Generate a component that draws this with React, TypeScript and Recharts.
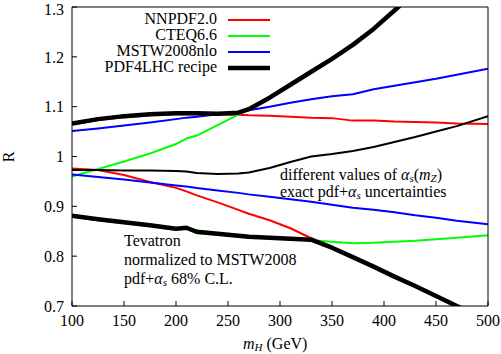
import { LineChart, Line, XAxis, YAxis, Legend } from "recharts";

const MASS = [100, 125, 150, 175, 200, 210, 220, 240, 260, 270, 290, 310, 330, 350, 370, 390, 410, 430, 450, 470, 500];

const NNPDF_UP = [1.064, 1.073, 1.079, 1.083, 1.085, 1.085, 1.085, 1.085, 1.084, 1.083, 1.082, 1.08, 1.078, 1.077, 1.072, 1.072, 1.07, 1.069, 1.068, 1.066, 1.065];
const NNPDF_LO = [0.976, 0.973, 0.963, 0.949, 0.937, 0.93, 0.922, 0.908, 0.893, 0.885, 0.872, 0.856, 0.836, 0.817, 0.798, 0.779, 0.759, 0.74, 0.72, 0.7, 0.67];
const CTEQ_UP = [0.96, 0.975, 0.99, 1.006, 1.025, 1.036, 1.042, 1.063, 1.084, 1.094, 1.117, 1.142, 1.168, 1.194, 1.222, 1.256, 1.293, 1.33, 1.37, 1.41, 1.47];
const CTEQ_LO = [0.879, 0.872, 0.866, 0.86, 0.853, 0.855, 0.846, 0.843, 0.839, 0.838, 0.836, 0.834, 0.832, 0.829, 0.826, 0.827, 0.829, 0.831, 0.834, 0.837, 0.842];
const MSTW_UP = [1.051, 1.056, 1.062, 1.068, 1.075, 1.078, 1.08, 1.085, 1.09, 1.093, 1.1, 1.108, 1.115, 1.121, 1.125, 1.135, 1.142, 1.149, 1.156, 1.164, 1.176];
const MSTW_LO = [0.964, 0.959, 0.954, 0.948, 0.942, 0.94, 0.937, 0.932, 0.927, 0.924, 0.919, 0.914, 0.909, 0.903, 0.897, 0.893, 0.888, 0.882, 0.877, 0.871, 0.864];
const PDF4LHC_UP = [1.066, 1.075, 1.081, 1.085, 1.087, 1.087, 1.087, 1.086, 1.088, 1.095, 1.118, 1.144, 1.17, 1.196, 1.224, 1.256, 1.293, 1.33, 1.37, 1.41, 1.47];
const PDF4LHC_LO = [0.881, 0.874, 0.868, 0.862, 0.855, 0.857, 0.849, 0.845, 0.841, 0.839, 0.837, 0.835, 0.833, 0.817, 0.798, 0.779, 0.759, 0.74, 0.72, 0.7, 0.67];
const ALPHAS_VAR = [0.973, 0.973, 0.972, 0.972, 0.971, 0.97, 0.967, 0.965, 0.966, 0.968, 0.977, 0.989, 1.0, 1.005, 1.011, 1.019, 1.029, 1.039, 1.05, 1.061, 1.081];

const X_TICKS = [100, 150, 200, 250, 300, 350, 400, 450, 500];
const Y_TICKS = [0.7, 0.8, 0.9, 1, 1.1, 1.2, 1.3];

const LEGEND_NAMES = ["NNPDF2.0", "CTEQ6.6", "MSTW2008nlo", "PDF4LHC recipe"];
const LEGEND_COLORS = ["#ff0000", "#00ff00", "#0000ff", "#000000"];
const LEGEND_WIDTHS = [2, 2, 2, 4.5];

const FONT = "'Liberation Serif', 'Times New Roman', serif";

const data = MASS.map((m, i) => ({
  m,
  nnUp: NNPDF_UP[i],
  nnLo: NNPDF_LO[i],
  ctUp: CTEQ_UP[i],
  ctLo: CTEQ_LO[i],
  msUp: MSTW_UP[i],
  msLo: MSTW_LO[i],
  envUp: PDF4LHC_UP[i],
  envLo: PDF4LHC_LO[i],
  as: ALPHAS_VAR[i],
}));

function LegendBox() {
  return (
    <svg width={501} height={80} style={{ display: "block" }}>
      {LEGEND_NAMES.map((name, i) => (
        <g key={name}>
          <text x={217} y={24 + i * 16} textAnchor="end" fontSize={16} fill="#000" fontFamily={FONT}>
            {name}
          </text>
          <line x1={228} x2={270} y1={20 + i * 16} y2={20 + i * 16} stroke={LEGEND_COLORS[i]} strokeWidth={LEGEND_WIDTHS[i]} />
        </g>
      ))}
    </svg>
  );
}

const axisStroke = { stroke: "#000", strokeWidth: 1 };
const tickStyle = { fill: "#000", fontSize: 16, fontFamily: FONT };

export default function App() {
  const line = (key: string, color: string, w: number) => (
    <Line
      key={key}
      xAxisId="b"
      yAxisId="l"
      dataKey={key}
      type="linear"
      stroke={color}
      strokeWidth={w}
      strokeLinejoin="round"
      dot={false}
      activeDot={false}
      isAnimationActive={false}
    />
  );

  return (
    <div style={{ position: "absolute", left: 0, top: 0, width: 501, height: 354, background: "#fff", fontFamily: FONT }}>
      <LineChart width={501} height={354} data={data} margin={{ top: 6, right: 12, bottom: 18, left: 12 }}>
        <XAxis
          xAxisId="b"
          dataKey="m"
          type="number"
          domain={[100, 500]}
          ticks={X_TICKS}
          allowDataOverflow
          height={30}
          tickSize={-5}
          tickMargin={14}
          axisLine={axisStroke}
          tickLine={axisStroke}
          tick={tickStyle}
        />
        <XAxis
          xAxisId="t"
          orientation="top"
          dataKey="m"
          type="number"
          domain={[100, 500]}
          ticks={X_TICKS}
          allowDataOverflow
          height={1}
          tickSize={-5}
          axisLine={axisStroke}
          tickLine={axisStroke}
          tick={false}
        />
        <YAxis
          yAxisId="l"
          type="number"
          domain={[0.7, 1.3]}
          ticks={Y_TICKS}
          allowDataOverflow
          width={60}
          tickSize={-5}
          tickMargin={13}
          axisLine={axisStroke}
          tickLine={axisStroke}
          tick={tickStyle}
        />
        <YAxis
          yAxisId="r"
          orientation="right"
          type="number"
          domain={[0.7, 1.3]}
          ticks={Y_TICKS}
          allowDataOverflow
          width={1}
          tickSize={-5}
          axisLine={axisStroke}
          tickLine={axisStroke}
          tick={false}
        />
        {line("nnUp", "#ff0000", 2)}
        {line("nnLo", "#ff0000", 2)}
        {line("ctUp", "#00ff00", 2)}
        {line("ctLo", "#00ff00", 2)}
        {line("msUp", "#0000ff", 2)}
        {line("msLo", "#0000ff", 2)}
        {line("as", "#000000", 2)}
        {line("envUp", "#000000", 4.5)}
        {line("envLo", "#000000", 4.5)}
        <Legend
          layout="vertical"
          align="center"
          verticalAlign="middle"
          content={() => <LegendBox />}
          wrapperStyle={{ position: "absolute", top: 0, left: 0, width: 501, height: 80 }}
        />
      </LineChart>
      <svg
        width={501}
        height={354}
        style={{ position: "absolute", left: 0, top: 0, pointerEvents: "none" }}
        fontFamily={FONT}
        fontSize={16}
        fill="#000"
      >
        <text x={280} y={180}>
          different values of <tspan fontStyle="italic">α</tspan>
          <tspan fontSize={11} dy={2} fontStyle="italic">s</tspan>
          <tspan dy={-2}>(</tspan>
          <tspan fontStyle="italic">m</tspan>
          <tspan fontSize={11} dy={2} fontStyle="italic">Z</tspan>
          <tspan dy={-2}>)</tspan>
        </text>
        <text x={280} y={197}>
          exact pdf+<tspan fontStyle="italic">α</tspan>
          <tspan fontSize={11} dy={2} fontStyle="italic">s</tspan>
          <tspan dy={-2}> uncertainties</tspan>
        </text>
        <text x={124} y={246}>Tevatron</text>
        <text x={124} y={265}>normalized to MSTW2008</text>
        <text x={124} y={284}>
          pdf+<tspan fontStyle="italic">α</tspan>
          <tspan fontSize={11} dy={2} fontStyle="italic">s</tspan>
          <tspan dy={-2}> 68% C.L.</tspan>
        </text>
        <text x={243} y={349}>
          <tspan fontStyle="italic">m</tspan>
          <tspan fontSize={11} dy={2} fontStyle="italic">H</tspan>
          <tspan dy={-2}>{" (GeV)"}</tspan>
        </text>
        <text x={0} y={0} transform="translate(14,157) rotate(-90)" textAnchor="middle">
          R
        </text>
      </svg>
    </div>
  );
}
